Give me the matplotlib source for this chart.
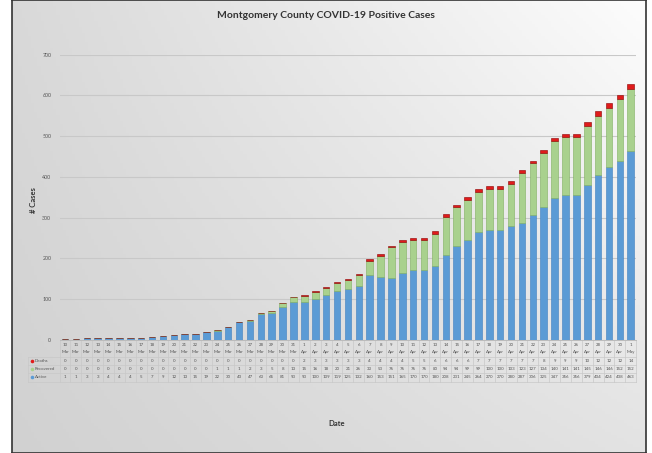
import numpy as np
import matplotlib
matplotlib.use("Agg")
import matplotlib.pyplot as plt
from matplotlib.transforms import blended_transform_factory
from matplotlib.lines import Line2D

plt.rcParams['font.family'] = ['Lato', 'DejaVu Sans']

# dates 10 Mar .. 1 May
days = [str(d) for d in range(10, 32)] + [str(d) for d in range(1, 31)] + ['1']
months = ['Mar'] * 22 + ['Apr'] * 30 + ['May']

deaths = [0] * 22 + [2, 3, 3, 3, 3, 3, 4, 4, 4, 4, 5, 5, 6, 6, 6, 6, 7, 7, 7, 7, 7, 7,
                     8, 9, 9, 9, 10, 12, 12, 12, 14]
recovered = [0] * 14 + [1, 1, 1, 2, 3, 5, 8, 13, 15, 16, 18, 20, 21, 26, 33, 53, 76, 76, 76,
                        76, 80, 94, 94, 99, 99, 100, 100, 103, 123, 127, 134, 140, 141, 141,
                        145, 146, 146, 152, 152]
active = [1, 1, 3, 3, 4, 4, 4, 5, 7, 9, 12, 13, 15, 19, 22, 30, 43, 47, 63, 65, 81, 93,
          93, 100, 109, 119, 125, 132, 160, 153, 151, 165, 170, 170, 180, 208, 231, 245,
          264, 270, 270, 280, 287, 306, 325, 347, 356, 356, 379, 404, 424, 438, 463]

c_active = '#5B9BD5'
c_recov = '#A9D18E'
c_death = '#E01B1B'

W, H = 652, 453
fig = plt.figure(figsize=(W / 100, H / 100), dpi=100)
fig.patch.set_facecolor('white')

# chart frame with grey gradient
bg = fig.add_axes([12 / W, 0, 634 / W, 1], zorder=-5)
gx = np.linspace(0, 1, 200)[None, :]
gy = np.linspace(0, 1, 150)[:, None]
shade = 0.82 + 0.14 * gx * (0.5 + 0.5 * (1 - gy)) + 0.03 * (1 - gy)
bg.imshow(np.dstack([shade] * 3), aspect='auto', extent=[0, 1, 0, 1], origin='upper')
bg.set_xticks([])
bg.set_yticks([])
for s in bg.spines.values():
    s.set_color('#333333')
    s.set_linewidth(1.2)

def fy(py):
    return 1 - py / H

ax = fig.add_axes([59.6 / W, fy(339.7), 576.6 / W, (339.7 - 54.7) / H])
ax.set_facecolor('none')
x = np.arange(len(active))
a = np.array(active)
r = np.array(recovered)
d = np.array(deaths)
ax.bar(x, a, width=0.6, color=c_active, edgecolor='#3F7FBF', linewidth=0.4, zorder=3)
ax.bar(x, r, width=0.6, bottom=a, color=c_recov, edgecolor='#7FAF5F', linewidth=0.4, zorder=3)
ax.bar(x, d, width=0.6, bottom=a + r, color=c_death, edgecolor='#8B0000', linewidth=0.4, zorder=3)
ax.set_xlim(-0.5, len(x) - 0.5)
ax.set_ylim(0, 700)
ax.set_yticks(range(0, 701, 100))
ax.tick_params(axis='y', labelsize=3.8, length=0, pad=6, labelcolor='#555555')
ax.set_xticks([])
ax.grid(axis='y', color='#c8c8c8', linewidth=0.8, zorder=0)
for s in ax.spines.values():
    s.set_visible(False)

fig.text(0.5, fy(16), 'Montgomery County COVID-19 Positive Cases', ha='center', va='center',
         fontsize=7.5, fontweight='bold', color='#333333')
fig.text(33 / W, fy(200), '# Cases', rotation=90, ha='center', va='center',
         fontsize=5.5, fontweight='bold', color='#333333')
fig.text(337 / W, fy(424), 'Date', ha='center', va='center',
         fontsize=5.5, fontweight='bold', color='#333333')

# data table under the plot
tr = blended_transform_factory(ax.transData, fig.transFigure)
tcol = '#555555'
for i in x:
    fig.text(i, fy(345), days[i], transform=tr, ha='center', va='center', fontsize=3.2, color=tcol)
    fig.text(i, fy(351.7), months[i], transform=tr, ha='center', va='center', fontsize=3.2, color=tcol)
    fig.text(i, fy(360.7), str(deaths[i]), transform=tr, ha='center', va='center', fontsize=3.2, color=tcol)
    fig.text(i, fy(369), str(recovered[i]), transform=tr, ha='center', va='center', fontsize=3.2, color=tcol)
    fig.text(i, fy(377.3), str(active[i]), transform=tr, ha='center', va='center', fontsize=3.2, color=tcol)

lc = '#c8c8c8'
for i in range(len(x) + 1):
    fig.add_artist(Line2D([i - 0.5, i - 0.5], [fy(340), fy(382)], transform=tr, color=lc, lw=0.5))
fig.add_artist(Line2D([-0.5, len(x) - 0.5], [fy(340), fy(340)], transform=tr, color='#bbbbbb', lw=0.7))
for py in [356.5, 365, 373.2, 382]:
    fig.add_artist(Line2D([28 / W, 636.2 / W], [fy(py), fy(py)], transform=fig.transFigure, color=lc, lw=0.5))
fig.add_artist(Line2D([28 / W, 28 / W], [fy(356.5), fy(382)], transform=fig.transFigure, color=lc, lw=0.5))

for py, name, col in [(360.7, 'Deaths', c_death), (369, 'Recovered', c_recov), (377.3, 'Active', c_active)]:
    fig.add_artist(Line2D([31.5 / W], [fy(py)], transform=fig.transFigure, marker='o',
                          markersize=2.6, markerfacecolor=col, markeredgecolor='none', linestyle='none'))
    fig.text(35 / W, fy(py), name, ha='left', va='center', fontsize=3.2, color=tcol)

fig.savefig('out.png', dpi=100)
